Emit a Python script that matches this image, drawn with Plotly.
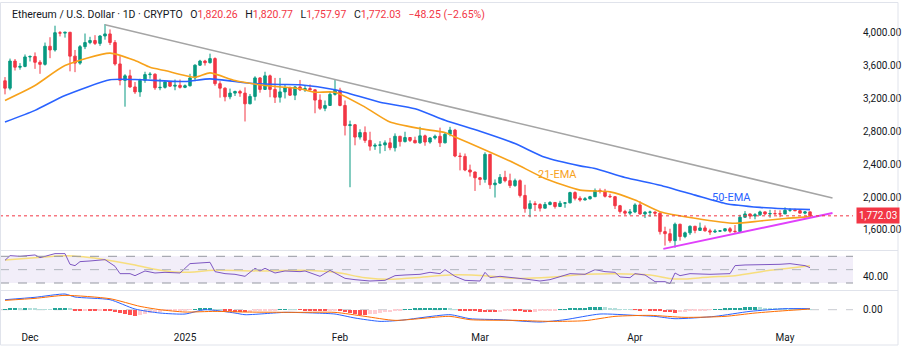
import pandas as pd
import plotly.graph_objects as go

# ---------------- data ----------------
start_date = "2024-11-26"

opens = [3415, 3325, 3655, 3580, 3590, 3705, 3710, 3640, 3615, 3835, 3790, 4000, 3995, 4005, 3715, 3630,
         3830, 3880, 3905, 3870, 3960, 3985, 3880, 3620, 3420, 3475, 3340, 3280, 3420, 3490, 3495, 3330,
         3335, 3400, 3350, 3360, 3335, 3355, 3450, 3605, 3655, 3635, 3685, 3380, 3325, 3220, 3265, 3285,
         3265, 3135, 3225, 3450, 3310, 3475, 3310, 3215, 3280, 3330, 3240, 3340, 3305, 3320, 3305, 3180,
         3080, 3115, 3250, 3300, 3115, 2870, 2880, 2730, 2785, 2690, 2620, 2630, 2635, 2660, 2600, 2740,
         2675, 2725, 2690, 2660, 2745, 2670, 2720, 2740, 2660, 2765, 2815, 2500, 2495, 2330, 2305, 2235,
         2215, 2520, 2150, 2170, 2240, 2200, 2140, 2200, 2020, 1860, 1920, 1910, 1865, 1910, 1935, 1885,
         1925, 1930, 2055, 1985, 1965, 1980, 2005, 2080, 2070, 2010, 2005, 1895, 1825, 1805, 1820, 1905,
         1795, 1815, 1818, 1805, 1580, 1555, 1470, 1670, 1520, 1565, 1645, 1595, 1625, 1590, 1575, 1585,
         1590, 1615, 1585, 1580, 1755, 1795, 1770, 1785, 1820, 1795, 1800, 1798, 1795, 1840, 1842, 1835,
         1805, 1820.26]
highs = [3460, 3685, 3680, 3630, 3735, 3725, 3760, 3665, 3880, 3945, 4085, 4020, 4010, 4010, 3790, 3850,
         3990, 3950, 3970, 3970, 4105, 4040, 3910, 3715, 3495, 3550, 3400, 3440, 3525, 3520, 3505, 3440,
         3415, 3410, 3430, 3430, 3370, 3500, 3615, 3670, 3670, 3745, 3700, 3410, 3335, 3320, 3295, 3305,
         3335, 3255, 3470, 3460, 3525, 3490, 3450, 3450, 3365, 3345, 3350, 3425, 3355, 3370, 3310, 3250,
         3175, 3285, 3435, 3330, 3175, 2930, 2890, 2825, 2860, 2795, 2655, 2680, 2690, 2720, 2775, 2745,
         2795, 2730, 2735, 2855, 2760, 2730, 2760, 2845, 2790, 2855, 2830, 2540, 2530, 2395, 2310, 2245,
         2545, 2525, 2215, 2280, 2320, 2285, 2225, 2215, 2150, 1960, 1950, 1925, 1940, 1950, 1940, 1955,
         1935, 2065, 2070, 2010, 2000, 2015, 2105, 2105, 2100, 2040, 2010, 1905, 1845, 1855, 1925, 1950,
         1830, 1835, 1825, 1815, 1640, 1615, 1690, 1675, 1580, 1655, 1650, 1690, 1655, 1615, 1610, 1600,
         1615, 1635, 1660, 1785, 1830, 1800, 1805, 1835, 1825, 1845, 1845, 1840, 1875, 1865, 1860, 1840,
         1830, 1820.77]
lows = [3250, 3300, 3540, 3550, 3580, 3650, 3560, 3500, 3600, 3690, 3770, 3955, 3940, 3530, 3520, 3610,
        3800, 3860, 3850, 3840, 3915, 3850, 3600, 3360, 3100, 3330, 3255, 3220, 3390, 3440, 3305, 3300,
        3320, 3340, 3300, 3320, 3325, 3345, 3410, 3595, 3600, 3625, 3355, 3210, 3165, 3190, 3230, 3220,
        2920, 3130, 3175, 3270, 3305, 3215, 3145, 3150, 3200, 3230, 3180, 3290, 3280, 3300, 3020, 3060,
        3045, 3110, 3235, 3105, 2750, 2120, 2630, 2700, 2660, 2565, 2575, 2530, 2560, 2570, 2555, 2615,
        2665, 2670, 2655, 2650, 2625, 2650, 2700, 2610, 2655, 2740, 2485, 2325, 2315, 2250, 2075, 2145,
        2175, 2100, 1995, 2160, 2180, 2110, 2125, 1995, 1810, 1755, 1830, 1825, 1865, 1900, 1860, 1880,
        1870, 1925, 1960, 1945, 1960, 1970, 2000, 2045, 1995, 1990, 1855, 1800, 1780, 1780, 1805, 1785,
        1745, 1760, 1770, 1545, 1410, 1445, 1385, 1470, 1500, 1540, 1560, 1590, 1580, 1540, 1565, 1575,
        1580, 1565, 1565, 1575, 1750, 1735, 1730, 1770, 1780, 1750, 1785, 1755, 1795, 1820, 1830, 1805,
        1790, 1757.97]
closes = [3325, 3655, 3580, 3590, 3705, 3710, 3640, 3615, 3835, 3790, 4000, 3995, 4005, 3715, 3630, 3830,
          3880, 3905, 3870, 3960, 3985, 3880, 3620, 3420, 3475, 3340, 3280, 3420, 3490, 3495, 3330, 3335,
          3400, 3350, 3360, 3335, 3355, 3450, 3605, 3655, 3635, 3685, 3380, 3325, 3220, 3265, 3285, 3265,
          3135, 3225, 3450, 3310, 3475, 3310, 3215, 3280, 3330, 3240, 3340, 3305, 3320, 3305, 3180, 3080,
          3115, 3250, 3300, 3115, 2870, 2880, 2730, 2785, 2690, 2620, 2630, 2635, 2660, 2600, 2740, 2675,
          2725, 2690, 2660, 2745, 2670, 2720, 2740, 2660, 2765, 2815, 2500, 2495, 2330, 2305, 2235, 2215,
          2520, 2150, 2170, 2240, 2200, 2140, 2200, 2020, 1860, 1920, 1910, 1865, 1910, 1935, 1885, 1925,
          1930, 2055, 1985, 1965, 1980, 2005, 2080, 2070, 2010, 2005, 1895, 1825, 1805, 1820, 1905, 1795,
          1815, 1818, 1805, 1580, 1555, 1470, 1670, 1520, 1565, 1645, 1595, 1625, 1590, 1575, 1585, 1590,
          1615, 1585, 1580, 1755, 1795, 1770, 1785, 1820, 1795, 1800, 1798, 1795, 1840, 1842, 1835, 1805,
          1820.26, 1772.03]

# sparse readings of the indicator lines (day offset from start_date, value)
ema21_day = [0, 6, 12, 21, 26, 29, 32, 38, 41, 46, 52, 59, 62, 66, 72, 77, 83, 88, 90, 95, 102, 108,
             115, 121, 126, 131, 138, 146, 151, 156, 161]
ema21_val = [3176, 3358, 3600, 3752, 3661, 3579, 3539, 3458, 3511, 3418, 3358, 3318, 3276, 3276, 3095,
             2913, 2833, 2785, 2731, 2600, 2409, 2227, 2085, 2064, 1964, 1822, 1742, 1681, 1709, 1740, 1762]
ema50_day = [0, 6, 12, 21, 26, 36, 41, 49, 55, 59, 66, 75, 82, 88, 95, 102, 108, 115, 118, 124, 131,
             138, 144, 151, 156, 161]
ema50_val = [2913, 3055, 3236, 3427, 3430, 3406, 3438, 3385, 3370, 3366, 3305, 3155, 3075, 2935, 2800,
             2651, 2484, 2380, 2348, 2239, 2145, 2024, 1923, 1875, 1858, 1848]

rsi_day = [0, 1, 3, 6, 7, 9, 10, 12, 13, 14, 15, 17, 19, 20, 22, 23, 25, 26, 28, 30, 32, 35, 37, 40,
           41, 42, 44, 46, 48, 50, 51, 52, 54, 56, 59, 60, 63, 65, 68, 70, 73, 76, 78, 80, 83, 85, 87,
           88, 89, 90, 92, 95, 96, 97, 99, 102, 104, 107, 109, 113, 116, 118, 120, 122, 123, 125, 126,
           128, 130, 132, 133, 134, 135, 137, 139, 141, 145, 146, 148, 151, 155, 157, 158, 160, 161]
rsi_val = [64, 71, 70, 72, 68, 72, 74, 74, 58, 56, 62, 63, 64, 65, 55, 44, 44, 41, 48, 45, 46, 45, 59,
           60, 61, 47, 44, 43, 40, 52, 48, 52, 45, 48, 47, 48, 40, 49, 37, 35, 33, 34, 41, 42, 43, 46,
           44, 50, 45, 40, 34, 33, 46, 38, 40, 38, 36, 33, 35, 44, 43, 50, 47, 46, 39, 38, 44, 42, 32,
           32, 29, 45, 41, 44, 43, 43, 44, 56, 57, 57, 58, 59, 58, 56, 53]
rsi_ma_day = [0, 6, 12, 16, 20, 26, 29, 35, 42, 52, 59, 66, 72, 77, 82, 89, 96, 102, 109, 116, 122,
              129, 134, 141, 146, 153, 161]
rsi_ma_val = [64.5, 68, 71, 69, 65, 57, 52, 46, 49, 48, 49, 46, 38, 35.5, 38, 42, 41, 37, 38.5, 43, 44,
              42, 36, 39, 41, 49, 56]

macd_day = [0, 6, 12, 14, 21, 26, 31, 36, 40, 46, 48, 56, 62, 66, 70, 75, 79, 89, 93, 99, 107, 112,
            119, 126, 130, 134, 142, 149, 156, 161]
macd_val = [150, 186, 235, 190, 150, 10, -50, -65, 0, -50, -75, -40, -50, -65, -125, -175, -160, -75,
            -135, -150, -185, -150, -65, -85, -100, -135, -100, -25, 15, 15]
signal_day = [0, 6, 12, 21, 27, 31, 36, 42, 48, 59, 66, 72, 78, 89, 93, 102, 109, 116, 122, 129, 136,
              144, 150, 156, 161]
signal_val = [140, 170, 215, 165, 50, 0, -35, -25, -35, -40, -40, -100, -160, -100, -150, -160, -175,
              -165, -100, -85, -115, -100, -50, -15, 10]
hist_val = [10, 12, 15, 13, 20, 15, 12, 10, 8, 6, 12, 18, 20, 12,
            -8, -15, -10, -12, -20, -15, -18, -25, -40, -55, -70, -85, -100,
            -85, -70, -55, -40, -30, -20, -15, -12, -10, -6, -3, 5, 12, 18, 20, 10, 3,
            -15, -25, -30, -35, -40, -30, -25, -20, -15, -10, -5, 3, 6, 4, 2, -3, -5, -8,
            -15, -20, -25, -20, -15, -25, -40, -55, -65, -75, -80,
            -70, -60, -50, -40, -30, -20, -10, 5, 10, 12, 15, 18, 20, 22, 25, 28, 20, 10,
            -10, -15, -20, -25, -28, -30, -35, -38, -30, -25, -15, -18, -25, -30, -35,
            -28, -20, -15, -10, -5, 5, 10, 15, 20, 25, 30, 35, 40, 42, 35, 25, 15,
            8, 5, 2, -3, -5, -3, -8, -15, -25, -30, -38, -42, -35, -30, -22, -15, -10, -5, -2,
            5, 10, 15, 20, 25, 30, 35, 40, 42, 35, 30, 25, 20, 15, 12, 10, 8, 6, 4, 2]

resist_dates = ["2024-12-16 00:00", "2025-05-10 12:00"]
resist_prices = [4097, 1990]
support_dates = ["2025-04-06 16:00", "2025-05-10 12:00"]
support_prices = [1370, 1806]

last_price = 1772.03
price_ticks = [1600, 2000, 2400, 2800, 3200, 3600, 4000]
month_ticks = ["2024-12-01", "2025-01-01", "2025-02-01", "2025-03-01", "2025-04-01", "2025-05-01"]
month_labels = ["Dec", "2025", "Feb", "Mar", "Apr", "May"]

# ---------------- helpers ----------------
t0 = pd.Timestamp(start_date)
dates = pd.date_range(start_date, periods=len(closes), freq="D")


def to_dates(days):
    return [t0 + pd.Timedelta(days=d) for d in days]


def parse(ds):
    return [pd.Timestamp(d) for d in ds]


GREEN = "#089981"
RED = "#F23645"
FONT = "Roboto"
TXT = "#131722"

fig = go.Figure()

# price pane
fig.add_trace(go.Candlestick(
    x=dates, open=opens, high=highs, low=lows, close=closes,
    increasing=dict(line=dict(color=GREEN, width=1), fillcolor=GREEN),
    decreasing=dict(line=dict(color=RED, width=1), fillcolor=RED),
    whiskerwidth=0, xaxis="x", yaxis="y", hoverinfo="skip"))
fig.add_trace(go.Scatter(x=to_dates(ema50_day), y=ema50_val, mode="lines",
                         line=dict(color="#2962FF", width=1.6, shape="spline", smoothing=0.6),
                         xaxis="x", yaxis="y", hoverinfo="skip"))
fig.add_trace(go.Scatter(x=to_dates(ema21_day), y=ema21_val, mode="lines",
                         line=dict(color="#F7A21B", width=1.6, shape="spline", smoothing=0.6),
                         xaxis="x", yaxis="y", hoverinfo="skip"))
fig.add_trace(go.Scatter(x=parse(resist_dates), y=resist_prices, mode="lines",
                         line=dict(color="#A5A5A5", width=1.5), xaxis="x", yaxis="y", hoverinfo="skip"))
fig.add_trace(go.Scatter(x=parse(support_dates), y=support_prices, mode="lines",
                         line=dict(color="#E040FB", width=2), xaxis="x", yaxis="y", hoverinfo="skip"))

# RSI pane
fig.add_trace(go.Scatter(x=to_dates(rsi_ma_day), y=rsi_ma_val, mode="lines",
                         line=dict(color="rgba(247,220,111,0.9)", width=1.5, shape="spline"),
                         xaxis="x", yaxis="y2", hoverinfo="skip"))
fig.add_trace(go.Scatter(x=to_dates(rsi_day), y=rsi_val, mode="lines",
                         line=dict(color="#7E57C2", width=1),
                         xaxis="x", yaxis="y2", hoverinfo="skip"))

# MACD pane
hist_colors = []
for i, v in enumerate(hist_val):
    prev = hist_val[i - 1] if i > 0 else 0
    if v >= 0:
        hist_colors.append("#26A69A" if v > prev else "#B2DFDB")
    else:
        hist_colors.append("#FFCDD2" if v > prev else "#FF5252")
fig.add_trace(go.Bar(x=dates[:len(hist_val)], y=hist_val, marker=dict(color=hist_colors, line=dict(width=0)),
                     width=0.7 * 86400000, xaxis="x", yaxis="y3", hoverinfo="skip"))
fig.add_trace(go.Scatter(x=to_dates(macd_day), y=macd_val, mode="lines",
                         line=dict(color="#2962FF", width=1, shape="spline", smoothing=0.6),
                         xaxis="x", yaxis="y3", hoverinfo="skip"))
fig.add_trace(go.Scatter(x=to_dates(signal_day), y=signal_val, mode="lines",
                         line=dict(color="#FF6D00", width=1, shape="spline", smoothing=0.6),
                         xaxis="x", yaxis="y3", hoverinfo="skip"))

# ---------------- layout ----------------
H_PLOT = 330.0


def py(p):  # pixel row (from top of plot area) -> paper y
    return (H_PLOT - p) / H_PLOT


shapes = [
    dict(type="rect", xref="paper", yref="y2", x0=0, x1=1, y0=30, y1=70,
         fillcolor="rgba(126,87,194,0.10)", line=dict(width=0), layer="below"),
    dict(type="line", xref="paper", yref="y2", x0=0, x1=1, y0=70, y1=70,
         line=dict(color="#9598A1", width=1, dash="dash")),
    dict(type="line", xref="paper", yref="y2", x0=0, x1=1, y0=50, y1=50,
         line=dict(color="#B2B5BE", width=1, dash="dash")),
    dict(type="line", xref="paper", yref="y2", x0=0, x1=1, y0=30, y1=30,
         line=dict(color="#9598A1", width=1, dash="dash")),
    dict(type="line", xref="paper", yref="y3", x0=0, x1=1, y0=0, y1=0,
         line=dict(color="#C8CAD0", width=1, dash="dash"), layer="below"),
    dict(type="line", xref="paper", yref="y", x0=0, x1=1, y0=last_price, y1=last_price,
         line=dict(color=RED, width=1, dash="dot")),
    dict(type="line", xref="paper", yref="paper", x0=0, x1=898 / 853, y0=py(250.5), y1=py(250.5),
         line=dict(color="#E0E3EB", width=1)),
    dict(type="line", xref="paper", yref="paper", x0=0, x1=898 / 853, y0=py(290.5), y1=py(290.5),
         line=dict(color="#E0E3EB", width=1)),
    dict(type="rect", xref="paper", yref="paper", x0=0.5 / 853, x1=898 / 853, y0=py(345), y1=py(2.5),
         line=dict(color="#E0E3EB", width=1)),
]

GAP = "\u2002\u2009"
title_html = (
    f"<span style='color:{TXT}'>Ethereum / U.S. Dollar · 1D · CRYPTO{GAP}O</span>"
    f"<span style='color:{RED}'>1,820.26</span>"
    f"<span style='color:{TXT}'>{GAP}H</span><span style='color:{RED}'>1,820.77</span>"
    f"<span style='color:{TXT}'>{GAP}L</span><span style='color:{RED}'>1,757.97</span>"
    f"<span style='color:{TXT}'>{GAP}C</span><span style='color:{RED}'>1,772.03</span>"
    f"<span style='color:{RED}'>{GAP}\u221248.25 (\u22122.65%)</span>"
)

annotations = [
    dict(text=title_html, xref="paper", yref="paper", x=10 / 853, y=py(14.5), xanchor="left",
         yanchor="middle", showarrow=False, font=dict(family=FONT, size=10.5, color=TXT)),
    dict(text=f"{last_price:,.2f}", xref="paper", yref="y", x=1, y=last_price, xanchor="left",
         yanchor="middle", xshift=3, showarrow=False, bgcolor=RED, borderpad=2,
         font=dict(family=FONT, size=10, color="white")),
    dict(text="21-EMA", xref="x", yref="y", x=t0 + pd.Timedelta(days=110.4), y=2269, showarrow=False,
         font=dict(family=FONT, size=11, color="#F7A21B")),
    dict(text="50-EMA", xref="x", yref="y", x=t0 + pd.Timedelta(days=145.2), y=2001, showarrow=False,
         font=dict(family=FONT, size=11, color="#2962FF")),
]

axis_common = dict(showgrid=False, zeroline=False, showline=False, ticks="", side="right",
                   tickfont=dict(family=FONT, size=10, color=TXT), ticklabelstandoff=9, fixedrange=True)

fig.update_layout(
    width=903, height=349,
    margin=dict(l=0, r=50, t=0, b=19),
    paper_bgcolor="white", plot_bgcolor="white",
    showlegend=False, bargap=0,
    xaxis=dict(type="date", range=[t0 - pd.Timedelta(days=1), t0 + pd.Timedelta(days=169.6)],
               anchor="y3", showgrid=False, zeroline=False, showline=False, ticks="",
               tickvals=parse(month_ticks), ticktext=month_labels,
               tickfont=dict(family=FONT, size=10, color=TXT), rangeslider=dict(visible=False)),
    yaxis=dict(domain=[80 / 330, 1], range=[1356.4, 4397.8], tickvals=price_ticks,
               ticktext=[f"{v:,.2f}" for v in price_ticks], **axis_common),
    yaxis2=dict(domain=[40 / 330, 79 / 330], range=[19.51, 77.94], tickvals=[40], ticktext=["40.00"],
                **axis_common),
    yaxis3=dict(domain=[0, 39 / 330], range=[-304.5, 280.5], tickvals=[0], ticktext=["0.00"],
                **axis_common),
    shapes=shapes, annotations=annotations,
)

fig.write_html("out.html")
